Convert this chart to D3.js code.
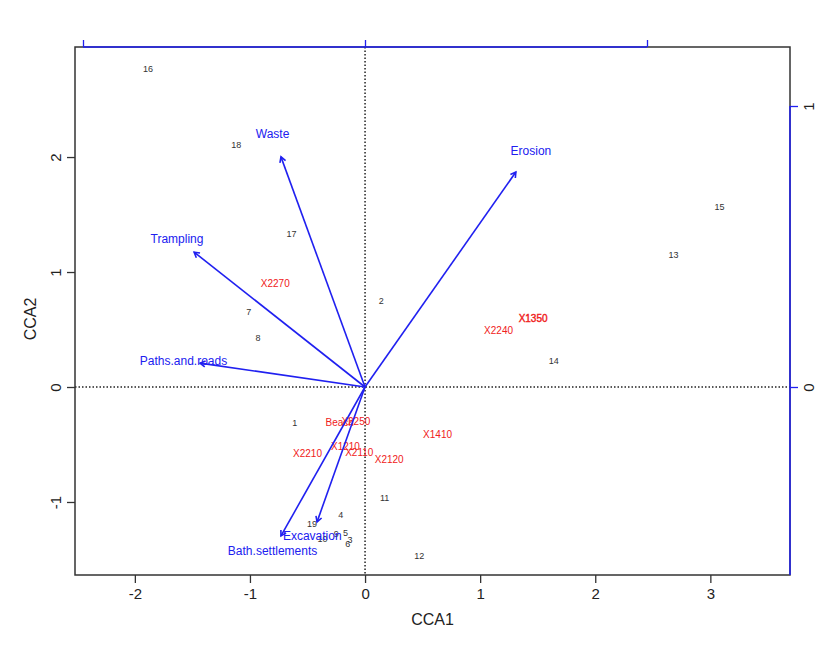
<!DOCTYPE html>
<html><head><meta charset="utf-8">
<script src="https://cdn.jsdelivr.net/npm/d3@7"></script>
<style>body{margin:0;padding:0;background:#fff;}svg{display:block;}</style>
</head><body>
<script>
// Site scores (CCA1, CCA2)
const siteLabels = ["1","2","3","4","5","6","7","8","9","10","11","12","13","14","15","16","17","18","19"];
const siteX = [-0.61, 0.14, -0.13, -0.21, -0.17, -0.15, -1.01, -0.93, -0.25, -0.37, 0.17, 0.47, 2.68, 1.64, 3.08, -1.885, -0.64, -1.12, -0.46];
const siteY = [-0.31, 0.75, -1.33, -1.11, -1.27, -1.365, 0.65, 0.43, -1.28, -1.32, -0.965, -1.47, 1.15, 0.23, 1.57, 2.765, 1.33, 2.104, -1.19];
// Species / centroid scores (red)
const spLabels = ["X2270","X1350","X2240","X1410","Beach","X2250","X1210","X2110","X2120","X2210"];
const spX = [-0.78, 1.46, 1.16, 0.63, -0.22, -0.08, -0.17, -0.05, 0.21, -0.50];
const spY = [0.90, 0.60, 0.49, -0.41, -0.31, -0.30, -0.52, -0.57, -0.63, -0.58];
// Biplot arrows (environmental variables), in arrow-axis units (top/right axes)
const envLabels = ["Waste","Erosion","Trampling","Paths.and.roads","Excavation","Bath.settlements"];
const envX = [-0.298, 0.535, -0.606, -0.585, -0.170, -0.298];
const envY = [0.819, 0.765, 0.480, 0.085, -0.480, -0.530];
// Tick values
const xTicks = [-2,-1,0,1,2,3];
const yTicks = [-1,0,1,2];
const topTicks = [-1,0,1];
const rightTicks = [0,1];

const W = 840, H = 658;
const L = 75, R = 790, T = 47, B = 575;
const svg = d3.select("body").append("svg").attr("width", W).attr("height", H);
svg.append("rect").attr("width",W).attr("height",H).attr("fill","#ffffff");

const x = d3.scaleLinear().domain([-2.52, 3.692]).range([L, R]);
const y = d3.scaleLinear().domain([-1.635, 2.957]).range([B, T]);
const x2 = d3.scaleLinear().domain([(L-365)/282, (R-365)/282]).range([L, R]);
const y2 = d3.scaleLinear().domain([(387-B)/281, (387-T)/281]).range([B, T]);

const font = "'Liberation Sans', Arial, Helvetica, sans-serif";
const ink = "#222";
const blue = "#2020f0";
const fmt = d => String(d);

// zero lines
svg.append("line").attr("x1", x(0)).attr("x2", x(0)).attr("y1", T).attr("y2", B)
  .attr("stroke", "#222").attr("stroke-width", 1.5).attr("stroke-dasharray", "1.5,2");
svg.append("line").attr("x1", L).attr("x2", R).attr("y1", y(0)).attr("y2", y(0))
  .attr("stroke", "#222").attr("stroke-width", 1.5).attr("stroke-dasharray", "1.5,2");

// box
svg.append("rect").attr("x", L).attr("y", T).attr("width", R-L).attr("height", B-T)
  .attr("fill", "none").attr("stroke", "#333").attr("stroke-width", 1.5);

// bottom axis
const gx = svg.append("g").attr("transform", `translate(0,${B})`)
  .call(d3.axisBottom(x).tickValues(xTicks).tickSize(8).tickPadding(5).tickFormat(fmt));
gx.select(".domain").remove();
gx.selectAll("line").attr("stroke", "#333").attr("stroke-width", 1.3);
gx.selectAll("text").attr("font-family", font).attr("font-size", 15).attr("fill", ink);

// left axis (rotated labels)
const gy = svg.append("g").attr("transform", `translate(${L},0)`)
  .call(d3.axisLeft(y).tickValues(yTicks).tickSize(8).tickFormat(fmt));
gy.select(".domain").remove();
gy.selectAll("line").attr("stroke", "#333").attr("stroke-width", 1.3);
gy.selectAll("text").attr("font-family", font).attr("font-size", 15).attr("fill", ink)
  .attr("x", null).attr("dy", null)
  .attr("text-anchor", "middle")
  .attr("transform", "translate(-14,0) rotate(-90)");

// top axis (arrow scale, blue, labels outside view)
const gt = svg.append("g").attr("transform", `translate(0,${T})`)
  .call(d3.axisTop(x2).tickValues(topTicks).tickSize(7).tickSizeOuter(0).tickFormat(""));
gt.select(".domain").attr("stroke", blue).attr("stroke-width", 1.5)
  .attr("d", `M${x2(-1)},0H${x2(1)}`);
gt.selectAll("line").attr("stroke", blue).attr("stroke-width", 1.3);

// right axis (arrow scale, blue)
const gr = svg.append("g").attr("transform", `translate(${R},0)`)
  .call(d3.axisRight(y2).tickValues(rightTicks).tickSize(8).tickFormat(fmt));
gr.select(".domain").attr("stroke", blue).attr("stroke-width", 1.5)
  .attr("d", `M0,${y2(1)}V${B}`);
gr.selectAll("line").attr("stroke", blue).attr("stroke-width", 1.3);
gr.selectAll("text").attr("font-family", font).attr("font-size", 15).attr("fill", ink)
  .attr("x", null).attr("dy", null)
  .attr("text-anchor", "middle")
  .attr("transform", "translate(24,0) rotate(-90)");

// axis titles
svg.append("text").attr("x", (L+R)/2).attr("y", 625).attr("text-anchor", "middle")
  .attr("font-family", font).attr("font-size", 16).attr("fill", ink).text("CCA1");
svg.append("text").attr("transform", `translate(36,${(T+B)/2 + 8}) rotate(-90)`).attr("text-anchor", "middle")
  .attr("font-family", font).attr("font-size", 16).attr("fill", ink).text("CCA2");

// sites
svg.append("g").selectAll("text").data(siteLabels).join("text")
  .attr("x", (d,i) => x(siteX[i])).attr("y", (d,i) => y(siteY[i]))
  .attr("dy", "0.35em").attr("text-anchor", "middle")
  .attr("font-family", font).attr("font-size", 9).attr("fill", "#333")
  .text(d => d);

// species / centroids
svg.append("g").selectAll("text").data(spLabels).join("text")
  .attr("x", (d,i) => x(spX[i])).attr("y", (d,i) => y(spY[i]))
  .attr("dy", "0.35em").attr("text-anchor", "middle")
  .attr("font-family", font).attr("font-size", 10).attr("fill", "#f02020")
  .attr("stroke", d => d === "X1350" ? "#f02020" : "none")
  .attr("stroke-width", 0.4)
  .text(d => d);

// arrows
const ga = svg.append("g");
envLabels.forEach((lab, i) => {
  const x0 = x2(0), y0 = y2(0), x1 = x2(envX[i]), y1 = y2(envY[i]);
  ga.append("line").attr("x1", x0).attr("y1", y0).attr("x2", x1).attr("y2", y1)
    .attr("stroke", blue).attr("stroke-width", 1.6);
  const ang = Math.atan2(y1 - y0, x1 - x0), len = 6, a = Math.PI / 6;
  const p = d3.path();
  p.moveTo(x1 - len * Math.cos(ang - a), y1 - len * Math.sin(ang - a));
  p.lineTo(x1, y1);
  p.lineTo(x1 - len * Math.cos(ang + a), y1 - len * Math.sin(ang + a));
  ga.append("path").attr("d", p.toString()).attr("fill", "none").attr("stroke", blue).attr("stroke-width", 1.6);
  ga.append("text").attr("x", x2(envX[i] * 1.1)).attr("y", y2(envY[i] * 1.1))
    .attr("dy", "0.35em").attr("text-anchor", "middle")
    .attr("font-family", font).attr("font-size", 12).attr("fill", blue).text(lab);
});
</script>
</body></html>
